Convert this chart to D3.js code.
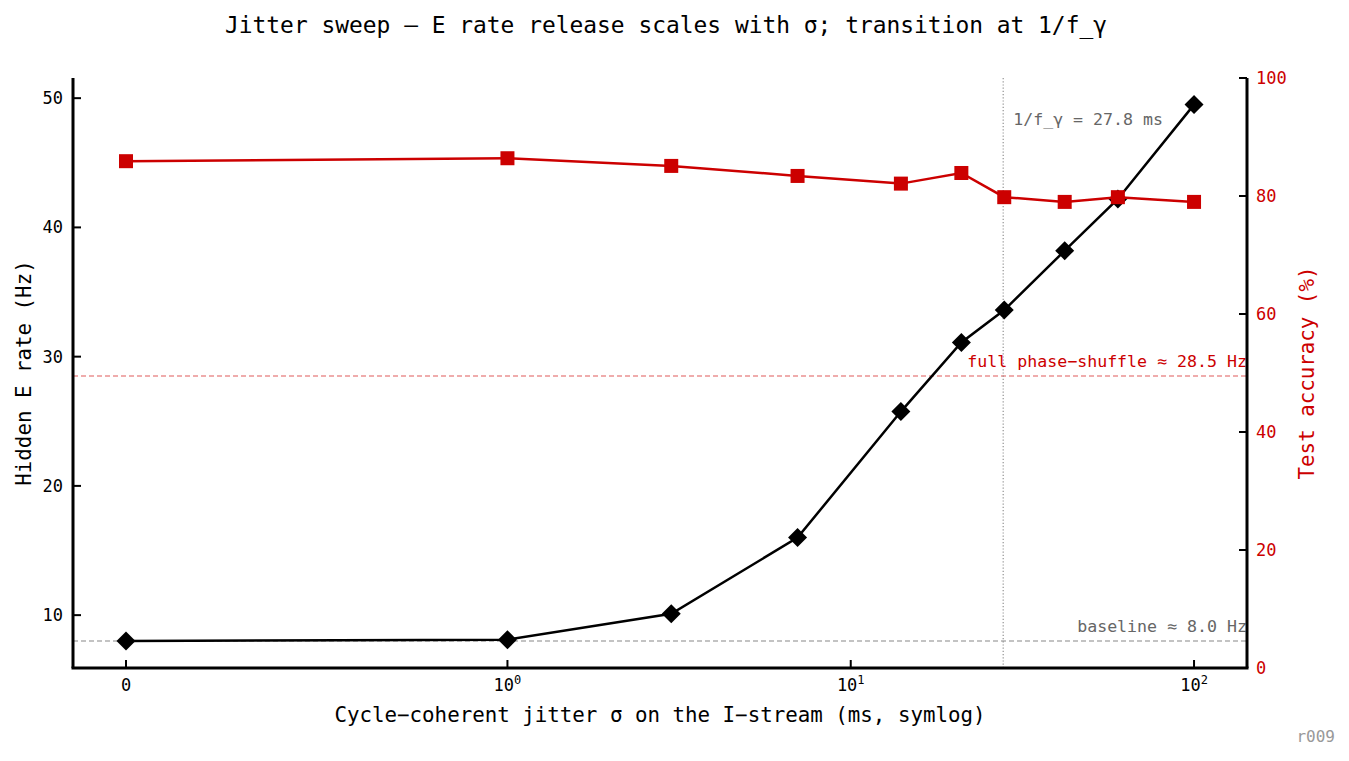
<!DOCTYPE html>
<html>
<head>
<meta charset="utf-8">
<script src="https://cdn.jsdelivr.net/npm/d3@7"></script>
<style>
  body { margin: 0; background: #fff; }
  svg text { font-family: "DejaVu Sans Mono", monospace; }
</style>
</head>
<body>
<div id="chart"></div>
<script>
// jitter sigma (ms) and the two measured series
const sigma = [0, 1, 3, 7, 14, 21, 28, 42, 60, 100]
const eRate = [8.0, 8.1, 10.1, 16.0, 25.75, 31.1, 33.6, 38.2, 42.2, 49.5]
const accuracy = [85.9, 86.4, 85.1, 83.4, 82.1, 83.9, 79.8, 79.0, 79.8, 79.0]

const xTicks = [0, 1, 10, 100]
const xTickLabels = [["0", ""], ["10", "0"], ["10", "1"], ["10", "2"]]
const leftTicks = [10, 20, 30, 40, 50]
const rightTicks = [0, 20, 40, 60, 80, 100]

const gammaPeriod = 27.8
const shuffleRate = 28.5
const baselineRate = 8.0

const W = 1349, H = 761
const margin = {top: 78, right: 102, bottom: 93, left: 73},
  width = W - margin.left - margin.right,
  height = H - margin.top - margin.bottom

const red = "#cc0000"

// matplotlib style symlog, linthresh 1, linscale 1
const linAdj = 1 / (1 - 1 / 10)
function sym(v) {
  const a = Math.abs(v)
  if (a <= 1) return v * linAdj
  return Math.sign(v) * (linAdj + Math.log10(a))
}

const x = d3.scaleLinear().domain([-0.1544, 3.2654]).range([0, width])
const yL = d3.scaleLinear().domain([5.91, 51.56]).range([height, 0])
const yR = d3.scaleLinear().domain([0, 100]).range([height, 0])

const svg = d3.select("#chart").append("svg")
  .attr("width", W).attr("height", H)

svg.append("text")
  .attr("x", 666).attr("y", 33)
  .attr("text-anchor", "middle")
  .style("font-size", "22.9px")
  .text("Jitter sweep – E rate release scales with σ; transition at 1/f_γ")

const g = svg.append("g")
  .attr("transform", "translate(" + margin.left + "," + margin.top + ")")

// reference lines
g.append("line")
  .attr("x1", 0).attr("x2", width)
  .attr("y1", yL(shuffleRate)).attr("y2", yL(shuffleRate))
  .attr("stroke", red).attr("stroke-opacity", 0.65)
  .attr("stroke-width", 1.1).attr("stroke-dasharray", "5,3")
g.append("line")
  .attr("x1", 0).attr("x2", width)
  .attr("y1", yL(baselineRate)).attr("y2", yL(baselineRate))
  .attr("stroke", "#888").attr("stroke-width", 1.1).attr("stroke-dasharray", "5,3")
g.append("line")
  .attr("x1", x(sym(gammaPeriod))).attr("x2", x(sym(gammaPeriod)))
  .attr("y1", 0).attr("y2", height)
  .attr("stroke", "#888").attr("stroke-width", 1.1).attr("stroke-dasharray", "1.2,2")

g.append("text")
  .attr("x", x(sym(gammaPeriod)) + 10).attr("y", 47)
  .attr("fill", "#666").style("font-size", "16.6px")
  .text("1/f_γ = " + gammaPeriod + " ms")
g.append("text")
  .attr("x", width).attr("y", yL(shuffleRate) - 9)
  .attr("text-anchor", "end")
  .attr("fill", red).style("font-size", "16.6px")
  .text("full phase−shuffle ≈ " + shuffleRate + " Hz")
g.append("text")
  .attr("x", width).attr("y", yL(baselineRate) - 9)
  .attr("text-anchor", "end")
  .attr("fill", "#666").style("font-size", "16.6px")
  .text("baseline ≈ " + baselineRate.toFixed(1) + " Hz")

// E rate series
const pts = sigma.map((s, i) => ({s: s, e: eRate[i], a: accuracy[i]}))

const lineE = d3.line().x(d => x(sym(d.s))).y(d => yL(d.e))
g.append("path").datum(pts)
  .attr("d", lineE).attr("fill", "none")
  .attr("stroke", "#000").attr("stroke-width", 2.5)

g.selectAll(".dia").data(pts).enter().append("path")
  .attr("class", "dia")
  .attr("transform", d => "translate(" + x(sym(d.s)) + "," + yL(d.e) + ")")
  .attr("d", "M0,-9.5L9.5,0L0,9.5L-9.5,0Z")
  .attr("fill", "#000")

// accuracy series
const lineA = d3.line().x(d => x(sym(d.s))).y(d => yR(d.a))
g.append("path").datum(pts)
  .attr("d", lineA).attr("fill", "none")
  .attr("stroke", red).attr("stroke-width", 2.5)

g.selectAll(".sq").data(pts).enter().append("rect")
  .attr("class", "sq")
  .attr("x", d => x(sym(d.s)) - 7).attr("y", d => yR(d.a) - 7)
  .attr("width", 14).attr("height", 14)
  .attr("fill", red)

// spines
g.append("line").attr("x1", 0).attr("x2", 0).attr("y1", 0).attr("y2", height)
  .attr("stroke", "#000").attr("stroke-width", 3)
g.append("line").attr("x1", width).attr("x2", width).attr("y1", 0).attr("y2", height)
  .attr("stroke", "#000").attr("stroke-width", 3)
g.append("line").attr("x1", -1.5).attr("x2", width + 1.5).attr("y1", height).attr("y2", height)
  .attr("stroke", "#000").attr("stroke-width", 3)

// x ticks
const xt = g.selectAll(".xt").data(xTicks).enter().append("g")
  .attr("transform", d => "translate(" + x(sym(d)) + "," + height + ")")
xt.append("line").attr("y1", 0).attr("y2", -8).attr("stroke", "#000").attr("stroke-width", 2)
const xl = xt.append("text").attr("y", 23).attr("text-anchor", "middle")
  .style("font-size", "17px")
xl.append("tspan").text((d, i) => xTickLabels[i][0])
xl.append("tspan").attr("dy", -7).style("font-size", "12px")
  .text((d, i) => xTickLabels[i][1])

// left ticks
const lt = g.selectAll(".lt").data(leftTicks).enter().append("g")
  .attr("transform", d => "translate(0," + yL(d) + ")")
lt.append("line").attr("x1", 0).attr("x2", 8).attr("stroke", "#000").attr("stroke-width", 2)
lt.append("text").attr("x", -10).attr("dy", "0.35em").attr("text-anchor", "end")
  .style("font-size", "17px").text(d => d)

// right ticks
const rt = g.selectAll(".rt").data(rightTicks).enter().append("g")
  .attr("transform", d => "translate(" + width + "," + yR(d) + ")")
rt.append("line").attr("x1", 0).attr("x2", -8).attr("stroke", "#000").attr("stroke-width", 2)
rt.append("text").attr("x", 9).attr("dy", "0.35em")
  .attr("fill", red).style("font-size", "17px").text(d => d)

// axis labels
svg.append("text")
  .attr("x", 660).attr("y", 722).attr("text-anchor", "middle")
  .style("font-size", "20.8px")
  .text("Cycle−coherent jitter σ on the I−stream (ms, symlog)")
svg.append("text")
  .attr("transform", "translate(31,373) rotate(-90)")
  .attr("text-anchor", "middle").style("font-size", "20.8px")
  .text("Hidden E rate (Hz)")
svg.append("text")
  .attr("transform", "translate(1314,373) rotate(-90)")
  .attr("text-anchor", "middle").attr("fill", red).style("font-size", "20.8px")
  .text("Test accuracy (%)")

svg.append("text")
  .attr("x", 1335).attr("y", 742).attr("text-anchor", "end")
  .attr("fill", "#999").style("font-size", "16px")
  .text("r009")
</script>
</body>
</html>
